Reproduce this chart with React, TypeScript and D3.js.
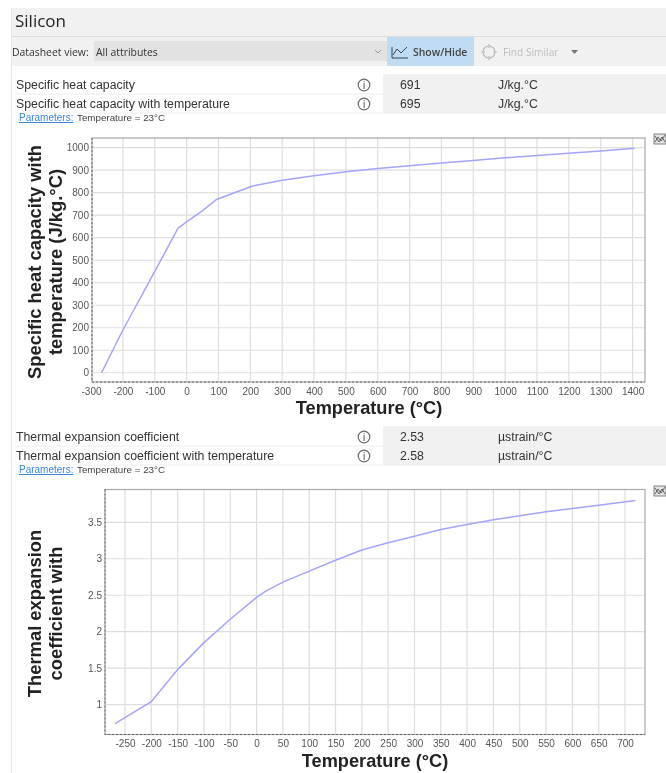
import React, { useEffect, useRef } from 'react';
import * as d3 from 'd3';

const heatTemps = [-267, -200, -150, -100, -27, 0, 50, 94, 150, 207, 300, 400, 500, 600, 700, 800, 900, 1000, 1100, 1200, 1300, 1407];
const heatValues = [0, 190, 320, 450, 642, 670, 720, 770, 800, 830, 855, 875, 893, 907, 920, 932, 943, 955, 965, 975, 985, 997];
const heatXTicks = d3.range(-300, 1401, 100);
const heatYTicks = d3.range(0, 1001, 100);

const expTemps = [-269, -200, -150, -100, -50, 0, 16, 50, 100, 150, 200, 250, 300, 350, 400, 450, 500, 550, 600, 650, 720];
const expValues = [0.74, 1.04, 1.48, 1.85, 2.17, 2.47, 2.55, 2.68, 2.83, 2.98, 3.12, 3.22, 3.31, 3.4, 3.47, 3.535, 3.59, 3.645, 3.69, 3.735, 3.8];
const expXTicks = d3.range(-250, 701, 50);
const expYTicks = [1, 1.5, 2, 2.5, 3, 3.5];

const SANS = 'Liberation Sans, Arial, sans-serif';
const UI = 'Open Sans, sans-serif';

const drawChart = (svg, cfg) => {
    const { box, xDomain, yDomain, xTicks, yTicks, temps, values, yTitle, yTitleX, xTitleY, xTitleX, xTickY, iconY } = cfg;
    const x = d3.scaleLinear().domain(xDomain).range([box.left, box.right]);
    const y = d3.scaleLinear().domain(yDomain).range([box.bottom, box.top]);

    const grid = svg.append('g').attr('stroke', '#dedede').attr('stroke-width', 1.2);
    grid.selectAll('.vg').data(xTicks.filter(d => d > xDomain[0])).enter().append('line')
        .attr('x1', d => x(d)).attr('x2', d => x(d))
        .attr('y1', box.top).attr('y2', box.bottom);
    grid.selectAll('.hg').data(yTicks).enter().append('line')
        .attr('y1', d => y(d)).attr('y2', d => y(d))
        .attr('x1', box.left).attr('x2', box.right);

    svg.append('rect')
        .attr('x', box.left).attr('y', box.top)
        .attr('width', box.right - box.left).attr('height', box.bottom - box.top)
        .attr('fill', 'none').attr('stroke', '#a8a8a8').attr('stroke-width', 1.2);

    // dotted look along the left and bottom axes
    svg.append('path')
        .attr('d', `M${box.left} ${box.top}V${box.bottom}H${box.right}`)
        .attr('fill', 'none').attr('stroke', '#666').attr('stroke-dasharray', '2,2');

    const xAxis = d3.axisBottom(x).tickValues(xTicks).tickSize(0).tickPadding(0).tickFormat(d => String(d));
    const gx = svg.append('g').attr('transform', `translate(0, ${xTickY})`).call(xAxis);
    gx.select('.domain').remove();
    gx.selectAll('text').attr('y', 0).attr('dy', '0.35em').attr('fill', '#555').attr('font-size', 10).attr('font-family', SANS);

    const yAxis = d3.axisLeft(y).tickValues(yTicks).tickSize(0).tickPadding(3).tickFormat(d => String(d));
    const gy = svg.append('g').attr('transform', `translate(${box.left}, 0)`).call(yAxis);
    gy.select('.domain').remove();
    gy.selectAll('text').attr('fill', '#555').attr('font-size', 10).attr('font-family', SANS);

    const line = d3.line().x(d => x(d[0])).y(d => y(d[1]));
    svg.append('path')
        .attr('d', line(temps.map((t, i) => [t, values[i]])))
        .attr('fill', 'none').attr('stroke', '#a4a4fa').attr('stroke-width', 1.5);

    svg.append('text').attr('x', xTitleX).attr('y', xTitleY).attr('text-anchor', 'middle')
        .attr('font-family', SANS).attr('font-weight', 'bold').attr('font-size', 18.2).attr('fill', '#222')
        .text('Temperature (°C)');

    const cy = (box.top + box.bottom) / 2 + cfg.yTitleShift;
    const t = svg.append('text').attr('transform', `translate(${yTitleX}, ${cy}) rotate(-90)`)
        .attr('text-anchor', 'middle').attr('font-family', SANS).attr('font-weight', 'bold')
        .attr('font-size', 18.4).attr('fill', '#222');
    yTitle.forEach((s, i) => t.append('tspan').attr('x', 0).attr('dy', i ? 21 : 0).text(s));

    // export icon at the right of the plot
    const icon = svg.append('g').attr('transform', `translate(654, ${iconY})`);
    icon.append('rect').attr('width', 12).attr('height', 10).attr('fill', '#e4e4e4').attr('stroke', '#666').attr('stroke-width', 0.8);
    icon.append('path').attr('d', 'M1 8L4 3L7 7L11 1M1 2L5 8L8 3L11 8').attr('fill', 'none').attr('stroke', '#444').attr('stroke-width', 0.8);
};

const drawRow = (svg, y, label, value, unit) => {
    svg.append('rect').attr('x', 383).attr('y', y - 2).attr('width', 283).attr('height', 20).attr('fill', '#f1f1f1');
    svg.append('line').attr('x1', 15).attr('x2', 666).attr('y1', y + 18).attr('y2', y + 18).attr('stroke', '#ececec');
    svg.append('text').attr('x', 16).attr('y', y + 13).attr('font-family', SANS).attr('font-size', 12.3).attr('fill', '#333').text(label);
    svg.append('circle').attr('cx', 364).attr('cy', y + 9).attr('r', 5.8).attr('fill', '#fff').attr('stroke', '#666').attr('stroke-width', 1.2);
    svg.append('text').attr('x', 364).attr('y', y + 13).attr('text-anchor', 'middle').attr('font-family', SANS).attr('font-size', 10).attr('fill', '#444').text('i');
    svg.append('text').attr('x', 400).attr('y', y + 13).attr('font-family', SANS).attr('font-size', 12.3).attr('fill', '#333').text(value);
    svg.append('text').attr('x', 498).attr('y', y + 13).attr('font-family', SANS).attr('font-size', 12.3).attr('fill', '#333').text(unit);
};

const drawParams = (svg, y) => {
    svg.append('text').attr('x', 19).attr('y', y).attr('font-family', SANS).attr('font-size', 10)
        .attr('fill', '#3a86d8').attr('text-decoration', 'underline').text('Parameters:');
    svg.append('text').attr('x', 77).attr('y', y).attr('font-family', SANS).attr('font-size', 9.8)
        .attr('fill', '#444').text('Temperature = 23°C');
};

const App = () => {
    const ref = useRef(null);

    useEffect(() => {
        const svg = d3.select(ref.current);
        svg.selectAll('*').remove();

        svg.append('rect').attr('width', 666).attr('height', 773).attr('fill', '#fff');
        svg.append('line').attr('x1', 11.5).attr('x2', 11.5).attr('y1', 8).attr('y2', 773).attr('stroke', '#e6e6e6');

        // header and toolbar
        svg.append('rect').attr('x', 12).attr('y', 8).attr('width', 654).attr('height', 58).attr('fill', '#f1f1f1');
        svg.append('line').attr('x1', 12).attr('x2', 666).attr('y1', 36.5).attr('y2', 36.5).attr('stroke', '#dcdcdc');
        svg.append('text').attr('x', 15).attr('y', 27).attr('font-family', UI).attr('font-size', 17).attr('fill', '#222').text('Silicon');
        svg.append('text').attr('x', 12).attr('y', 56).attr('font-family', UI).attr('font-size', 10.4).attr('fill', '#333').text('Datasheet view:');
        svg.append('rect').attr('x', 94).attr('y', 41).attr('width', 293).attr('height', 20).attr('fill', '#e2e2e2');
        svg.append('text').attr('x', 96).attr('y', 56).attr('font-family', UI).attr('font-size', 10.4).attr('fill', '#333').text('All attributes');
        svg.append('path').attr('d', 'M375 50L378 53L381 50').attr('fill', 'none').attr('stroke', '#999');
        svg.append('rect').attr('x', 387).attr('y', 37).attr('width', 87).attr('height', 29).attr('fill', '#c0dcf2');
        svg.append('path').attr('d', 'M392 47V58H408M393 55L397 49L401 53L407 47').attr('fill', 'none').attr('stroke', '#345').attr('stroke-width', 1);
        svg.append('text').attr('x', 413).attr('y', 56).attr('font-family', UI).attr('font-size', 10.4).attr('font-weight', 600).attr('fill', '#444').text('Show/Hide');
        svg.append('circle').attr('cx', 489).attr('cy', 52).attr('r', 6).attr('fill', 'none').attr('stroke', '#bbb').attr('stroke-width', 1.2);
        svg.append('path').attr('d', 'M489 44V48M489 56V60M481 52H485M493 52H497').attr('stroke', '#bbb').attr('stroke-width', 1.2);
        svg.append('text').attr('x', 503).attr('y', 56).attr('font-family', UI).attr('font-size', 10.2).attr('fill', '#bdbdbd').text('Find Similar');
        svg.append('path').attr('d', 'M571 50H578L574.5 54Z').attr('fill', '#777');

        drawRow(svg, 76, 'Specific heat capacity', '691', 'J/kg.°C');
        drawRow(svg, 95, 'Specific heat capacity with temperature', '695', 'J/kg.°C');
        drawParams(svg, 121);

        drawChart(svg, {
            box: { left: 92, right: 645, top: 138, bottom: 382 },
            xDomain: [-297, 1439], yDomain: [-41, 1043],
            xTicks: heatXTicks, yTicks: heatYTicks,
            temps: heatTemps, values: heatValues,
            yTitle: ['Specific heat capacity with', 'temperature (J/kg.°C)'],
            yTitleX: 41, yTitleShift: 2, xTitleX: 369, xTitleY: 414, xTickY: 391, iconY: 134,
        });

        drawRow(svg, 428, 'Thermal expansion coefficient', '2.53', 'µstrain/°C');
        drawRow(svg, 447, 'Thermal expansion coefficient with temperature', '2.58', 'µstrain/°C');
        drawParams(svg, 473);

        drawChart(svg, {
            box: { left: 105, right: 645, top: 489.5, bottom: 734.5 },
            xDomain: [-288, 738], yDomain: [0.59, 3.95],
            xTicks: expXTicks, yTicks: expYTicks,
            temps: expTemps, values: expValues,
            yTitle: ['Thermal expansion', 'coefficient with'],
            yTitleX: 41, yTitleShift: 1.5, xTitleX: 375, xTitleY: 767, xTickY: 743, iconY: 486,
        });
    }, []);

    return <svg ref={ref} width={666} height={773} style={{ position: 'absolute', left: 0, top: 0, filter: 'blur(0.4px)' }} />;
};

export default App;
